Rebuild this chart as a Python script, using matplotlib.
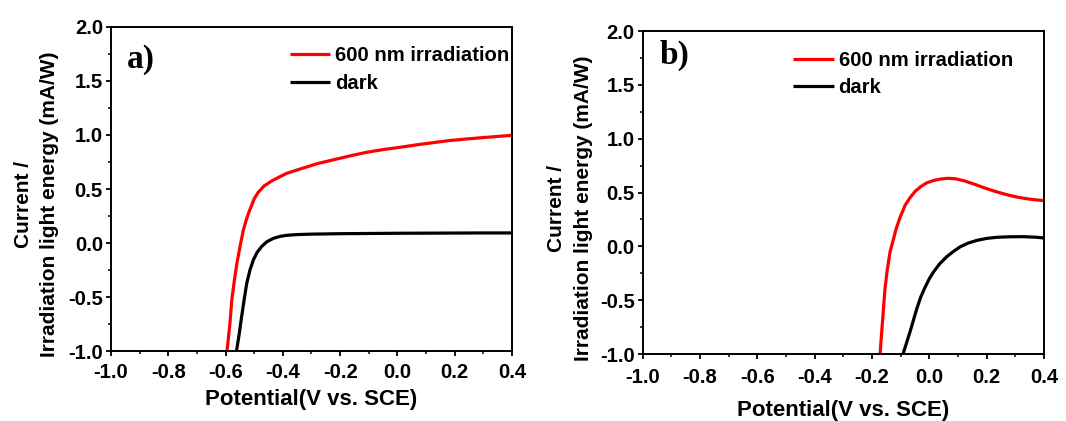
import matplotlib
matplotlib.use("Agg")
import matplotlib.pyplot as plt
from matplotlib.ticker import MultipleLocator

plt.rcParams['font.family'] = ['Liberation Sans', 'DejaVu Sans']
plt.rcParams['font.weight'] = 'bold'

# ---- data ----
a_light_x = [-0.595, -0.585, -0.578, -0.568, -0.560, -0.548, -0.538, -0.526, -0.515, -0.500,
             -0.486, -0.465, -0.439, -0.410, -0.387, -0.340, -0.280, -0.224, -0.160, -0.107,
             -0.050, 0.009, 0.070, 0.125, 0.180, 0.242, 0.300, 0.358, 0.400]
a_light_y = [-1.00, -0.75, -0.52, -0.32, -0.18, -0.01, 0.12, 0.23, 0.31, 0.41,
             0.47, 0.53, 0.575, 0.615, 0.645, 0.685, 0.735, 0.770, 0.810, 0.840,
             0.865, 0.886, 0.910, 0.929, 0.948, 0.963, 0.976, 0.988, 0.997]

a_dark_x = [-0.562, -0.553, -0.544, -0.535, -0.526, -0.515, -0.503, -0.490, -0.474, -0.455,
            -0.433, -0.410, -0.387, -0.350, -0.300, -0.200, -0.100, 0.000, 0.100, 0.200,
            0.300, 0.400]
a_dark_y = [-1.00, -0.85, -0.68, -0.52, -0.37, -0.25, -0.155, -0.085, -0.03, 0.015,
            0.045, 0.063, 0.073, 0.080, 0.084, 0.088, 0.090, 0.092, 0.093, 0.094,
            0.095, 0.095]

b_light_x = [-0.172, -0.165, -0.155, -0.147, -0.137, -0.126, -0.115, -0.102, -0.085, -0.068,
             -0.050, -0.030, -0.009, 0.015, 0.040, 0.065, 0.090, 0.120, 0.154, 0.190,
             0.230, 0.270, 0.305, 0.340, 0.370, 0.400]
b_light_y = [-1.00, -0.75, -0.40, -0.22, -0.05, 0.06, 0.17, 0.27, 0.38, 0.45,
             0.51, 0.555, 0.59, 0.612, 0.626, 0.632, 0.628, 0.61, 0.58, 0.545,
             0.51, 0.48, 0.458, 0.442, 0.432, 0.425]

b_dark_x = [-0.092, -0.080, -0.067, -0.055, -0.044, -0.030, -0.015, 0.000, 0.014, 0.035,
            0.061, 0.085, 0.107, 0.135, 0.165, 0.200, 0.235, 0.280, 0.328, 0.370, 0.400]
b_dark_y = [-1.00, -0.90, -0.79, -0.68, -0.58, -0.47, -0.38, -0.30, -0.24, -0.165,
            -0.095, -0.045, -0.005, 0.03, 0.055, 0.074, 0.084, 0.089, 0.090, 0.085, 0.078]

series_labels = ["600 nm irradiation", "dark"]
panel_labels = ["a)", "b)"]
xlabel = "Potential(V vs. SCE)"
ylabel = "Current /\nIrradiation light energy (mA/W)"

fig = plt.figure(figsize=(10.66, 4.21), dpi=100)
fig.patch.set_facecolor('white')

ax1 = fig.add_axes([0.1041, 0.1651, 0.3762, 0.7715])
ax2 = fig.add_axes([0.6029, 0.1591, 0.3765, 0.7672])

panels = [
    (ax1, a_light_x, a_light_y, a_dark_x, a_dark_y, panel_labels[0],
     (0.446, 0.908), (0.075, 0.90), 4.5, 5.0, (-0.186, 0.454)),
    (ax2, b_light_x, b_light_y, b_dark_x, b_dark_y, panel_labels[1],
     (0.3745, 0.907), (0.08, 0.925), 6.3, 9.0, (-0.181, 0.452)),
]

for ax, lx, ly, dx, dy, plab, legpos, labpos, tpad, lpad, ylc in panels:
    ax.plot(lx, ly, color='#ff0000', lw=2.3, label=series_labels[0], solid_capstyle='butt')
    ax.plot(dx, dy, color='black', lw=2.3, label=series_labels[1], solid_capstyle='butt')
    ax.set_xlim(-1.0, 0.4)
    ax.set_ylim(-1.0, 2.0)
    ax.xaxis.set_major_locator(MultipleLocator(0.2))
    ax.xaxis.set_minor_locator(MultipleLocator(0.1))
    ax.yaxis.set_major_locator(MultipleLocator(0.5))
    ax.yaxis.set_minor_locator(MultipleLocator(0.25))
    ax.xaxis.set_major_formatter(plt.FuncFormatter(lambda v, p: f"{v:.1f}"))
    ax.yaxis.set_major_formatter(plt.FuncFormatter(lambda v, p: f"{v:.1f}"))
    for s in ax.spines.values():
        s.set_linewidth(1.4)
    ax.tick_params(which='major', direction='out', length=3.8, width=1.3,
                   labelsize=14.6, top=False, right=False)
    ax.tick_params(which='minor', direction='out', length=2.3, width=1.1,
                   top=False, right=False)
    ax.tick_params(axis='x', which='major', pad=tpad)
    ax.tick_params(axis='y', which='major', pad=2.0)
    for t in ax.get_xticklabels() + ax.get_yticklabels():
        t.set_fontweight('bold')
    ax.set_xlabel(xlabel, fontsize=16, fontweight='bold', labelpad=lpad)
    ax.set_ylabel(ylabel, fontsize=15, fontweight='bold', va='center', ha='center',
                  linespacing=1.5)
    ax.yaxis.set_label_coords(*ylc)
    ax.text(labpos[0], labpos[1], plab, transform=ax.transAxes, ha='center', va='center',
            fontsize=24, fontweight='bold', family=['Liberation Serif', 'DejaVu Serif'])
    leg = ax.legend(loc='center left', bbox_to_anchor=(legpos[0], legpos[1] - 0.04),
                    frameon=False, fontsize=14.6, handlelength=2.0, handletextpad=0.25,
                    labelspacing=0.42, borderpad=0, borderaxespad=0)
    for t in leg.get_texts():
        t.set_fontweight('bold')

fig.savefig("out.png", dpi=100, facecolor='white')
